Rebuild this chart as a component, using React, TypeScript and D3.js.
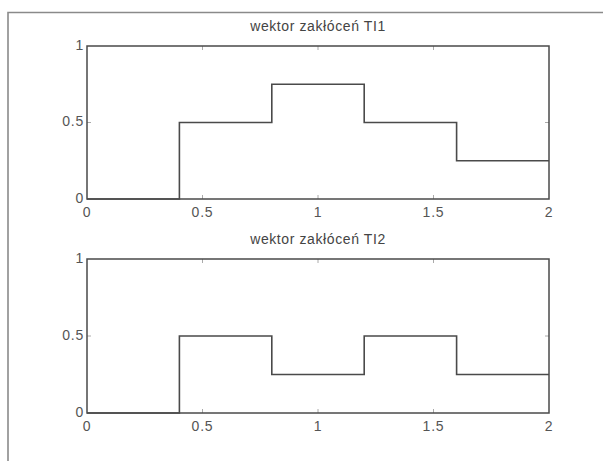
import React, { useEffect, useRef } from 'react';
import * as d3 from 'd3';

// dane
const stepStarts = [0, 0.4, 0.8, 1.2, 1.6];
const xEnd = 2;
const ti1Values = [0, 0.5, 0.75, 0.5, 0.25];
const ti2Values = [0, 0.5, 0.25, 0.5, 0.25];
const titles = ['wektor zakłóceń TI1', 'wektor zakłóceń TI2'];
const xTicks = [0, 0.5, 1, 1.5, 2];
const yTicks = [0, 0.5, 1];

const App = () => {
  const ref = useRef<SVGSVGElement>(null);

  useEffect(() => {
    const svg = d3.select(ref.current);
    svg.selectAll('*').remove();

    const W = 603;
    const H = 461;
    svg.attr('width', W).attr('height', H);
    svg.append('rect').attr('width', W).attr('height', H).attr('fill', '#fff');

    // ramka figury
    svg.append('path')
      .attr('d', `M8,${H} L8,12.5 L${W},12.5`)
      .attr('fill', 'none')
      .attr('stroke', '#8a8a8a')
      .attr('stroke-width', 1.6);

    const left = 87;
    const right = 549;
    const panels = [
      { top: 46, bottom: 199, values: ti1Values, title: titles[0] },
      { top: 259, bottom: 413, values: ti2Values, title: titles[1] },
    ];

    const x = d3.scaleLinear().domain([0, 2]).range([left, right]);
    const font = 'Liberation Sans, Arial, sans-serif';
    const ink = '#4a4a4a';

    panels.forEach(p => {
      const y = d3.scaleLinear().domain([0, 1]).range([p.bottom, p.top]);
      const g = svg.append('g');

      // ticki do wewnątrz, na wszystkich bokach
      xTicks.slice(1, -1).forEach(t => {
        g.append('line').attr('x1', x(t)).attr('x2', x(t))
          .attr('y1', p.bottom).attr('y2', p.bottom - 4)
          .attr('stroke', '#aaa').attr('stroke-width', 1);
        g.append('line').attr('x1', x(t)).attr('x2', x(t))
          .attr('y1', p.top).attr('y2', p.top + 4)
          .attr('stroke', '#aaa').attr('stroke-width', 1);
      });
      yTicks.slice(1, -1).forEach(t => {
        g.append('line').attr('x1', left).attr('x2', left + 4)
          .attr('y1', y(t)).attr('y2', y(t))
          .attr('stroke', '#aaa').attr('stroke-width', 1);
        g.append('line').attr('x1', right).attr('x2', right - 4)
          .attr('y1', y(t)).attr('y2', y(t))
          .attr('stroke', '#aaa').attr('stroke-width', 1);
      });

      // obramowanie osi
      g.append('rect')
        .attr('x', left).attr('y', p.top)
        .attr('width', right - left).attr('height', p.bottom - p.top)
        .attr('fill', 'none').attr('stroke', ink).attr('stroke-width', 1.5);

      // przebieg schodkowy
      const pts: [number, number][] = stepStarts.map((s, i) => [s, p.values[i]]);
      pts.push([xEnd, p.values[p.values.length - 1]]);
      const line = d3.line<[number, number]>()
        .x(d => x(d[0]))
        .y(d => y(d[1]))
        .curve(d3.curveStepAfter);
      g.append('path')
        .attr('d', line(pts))
        .attr('fill', 'none')
        .attr('stroke', ink)
        .attr('stroke-width', 1.6);

      // etykiety
      g.selectAll('.xl').data(xTicks).enter().append('text')
        .attr('x', d => x(d)).attr('y', p.bottom + 18)
        .attr('text-anchor', 'middle')
        .attr('font-family', font).attr('font-size', 14).attr('fill', '#555')
        .attr('letter-spacing', 0.8)
        .text(d => String(d));
      g.selectAll('.yl').data(yTicks).enter().append('text')
        .attr('x', left - 3).attr('y', d => y(d) + 3.5)
        .attr('text-anchor', 'end')
        .attr('font-family', font).attr('font-size', 14).attr('fill', '#555')
        .attr('letter-spacing', 0.8)
        .text(d => String(d));

      g.append('text')
        .attr('x', (left + right) / 2).attr('y', p.top - 15)
        .attr('text-anchor', 'middle')
        .attr('font-family', font).attr('font-size', 14).attr('fill', '#444')
        .attr('letter-spacing', 0.6)
        .text(p.title);
    });
  }, []);

  return (
    <svg ref={ref} style={{ position: 'absolute', left: 0, top: 0, display: 'block' }} />
  );
};

export default App;
